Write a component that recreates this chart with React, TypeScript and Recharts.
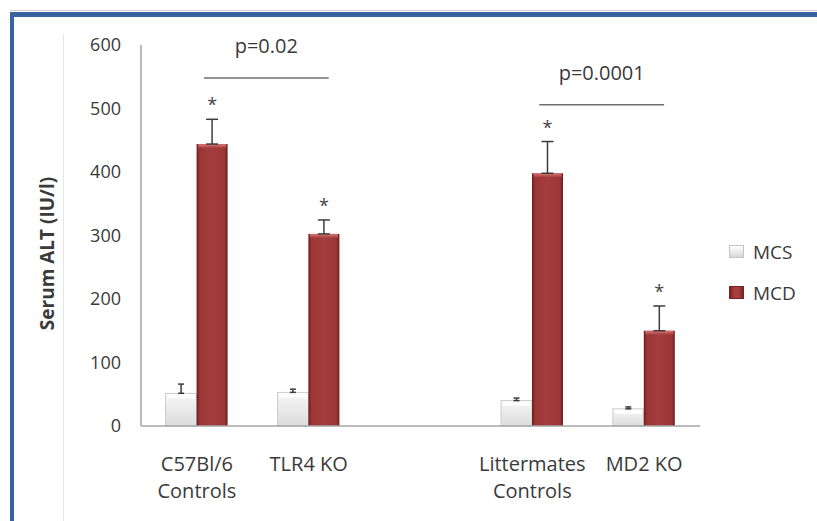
import {
  BarChart,
  Bar,
  XAxis,
  YAxis,
  ErrorBar,
  LabelList,
  ReferenceLine,
  Legend,
} from 'recharts'

const FONT = "'Open Sans', sans-serif"
const TEXT = '#3a3a3a'

// empty middle group is the spacer between the two strains
const groups = ['C57Bl/6\nControls', 'TLR4 KO', '', 'Littermates\nControls', 'MD2 KO']
const mcs = [51.5, 53, null, 40, 27]
const mcsErr = [14.5, 5, null, 4, 3]
const mcd = [444, 302.5, null, 398, 150]
const mcdErr = [39, 22, null, 50, 39]
const starred = [true, true, false, true, true]
const yTicks = [0, 100, 200, 300, 400, 500, 600]

const comparisons = [
  { from: 'C57Bl/6\nControls', to: 'TLR4 KO', at: 548, label: 'p=0.02' },
  { from: 'Littermates\nControls', to: 'MD2 KO', at: 506, label: 'p=0.0001' },
]

const data = groups.map((g, i) => ({
  group: g,
  MCS: mcs[i],
  MCD: mcd[i],
  mcsErr: mcsErr[i] == null ? null : [0, mcsErr[i]],
  mcdErr: mcdErr[i] == null ? null : [0, mcdErr[i]],
}))

function GroupTick(props: any) {
  const { x, y, payload } = props
  const lines = String(payload.value).split('\n')
  return (
    <text x={x} y={y} textAnchor="middle" fill={TEXT} fontSize={20} fontFamily={FONT}>
      {lines.map((l, i) => (
        <tspan key={i} x={x} dy={i === 0 ? 45 : 27}>{l}</tspan>
      ))}
    </text>
  )
}

function McsShape(props: any) {
  const { x, y, width, height } = props
  if (!height || height <= 0) return null
  return (
    <g>
      <rect x={x} y={y} width={width} height={height} fill="url(#mcsFill)" stroke="#c4c4c4" strokeWidth={0.8} />
      <rect x={x + 2} y={y + 1} width={width - 4} height={Math.min(4, height - 2)} fill="#ffffff" opacity={0.9} />
    </g>
  )
}

function McdShape(props: any) {
  const { x, y, width, height } = props
  if (!height || height <= 0) return null
  return (
    <g>
      <rect x={x} y={y} width={width} height={height} fill="url(#mcdSide)" />
      <rect x={x + 1.5} y={y} width={width - 3} height={4} fill="url(#mcdTop)" />
    </g>
  )
}

// label index skips empty groups, so find the group by its value
function Star(props: any) {
  const { x, y, width, height, value } = props
  const i = mcd.indexOf(Number(value))
  if (i < 0 || !starred[i]) return null
  const e = mcdErr[i] as number
  const errPx = (e * height) / (mcd[i] as number)
  return (
    <text x={x + width / 2} y={y - errPx - 8} textAnchor="middle" fontSize={18} fill="#454545" fontFamily={FONT}>
      *
    </text>
  )
}

function Bracket(props: any) {
  const { x1, y1, x2, label } = props
  const a = x1 + 7
  const b = x2 + 20
  return (
    <g>
      <line x1={a} y1={y1} x2={b} y2={y1} stroke="#6e6e6e" strokeWidth={1.5} />
      <text x={(a + b) / 2} y={y1 - 25} textAnchor="middle" fontSize={20} fill={TEXT} fontFamily={FONT}>
        {label}
      </text>
    </g>
  )
}

const legendItems = [
  { name: 'MCS', bg: 'linear-gradient(#ffffff, #d8d8d8)', border: '#c4c4c4' },
  { name: 'MCD', bg: 'linear-gradient(to right, #7a2222, #a63e3e 30%, #a63e3e 70%, #7a2222)', border: '#7a2222' },
]

function LegendBox() {
  return (
    <div style={{ fontFamily: FONT, fontSize: 19, color: TEXT }}>
      {legendItems.map((it) => (
        <div key={it.name} style={{ display: 'flex', alignItems: 'center', height: 41 }}>
          <span
            style={{
              display: 'inline-block',
              width: 13,
              height: 11,
              background: it.bg,
              border: `1px solid ${it.border}`,
              marginRight: 9,
            }}
          />
          {it.name}
        </div>
      ))}
    </div>
  )
}

export default function App() {
  return (
    <div style={{ position: 'absolute', left: 0, top: 0, width: 817, height: 521, overflow: 'hidden', background: '#fff' }}>
      <div style={{ position: 'absolute', left: 10, top: 10, width: 900, height: 1, background: '#cfcfcf' }} />
      <div
        style={{
          position: 'absolute',
          left: 10,
          top: 12,
          width: 900,
          height: 600,
          borderLeft: '4px solid #3b62a0',
          borderTop: '5px solid #3b62a0',
        }}
      />
      <div style={{ position: 'absolute', left: 63, top: 34, width: 1, height: 500, background: '#e6e6e6' }} />
      <div style={{ position: 'absolute', left: 0, top: 0 }}>
        <BarChart
          width={817}
          height={521}
          data={data}
          margin={{ top: 45, right: 27, bottom: 35, left: 0 }}
          barCategoryGap="22%"
          barGap={0}
        >
          <defs>
            <linearGradient id="mcsFill" x1="0" y1="0" x2="0" y2="1">
              <stop offset="0%" stopColor="#f7f7f7" />
              <stop offset="100%" stopColor="#dcdcdc" />
            </linearGradient>
            <linearGradient id="mcdSide" x1="0" y1="0" x2="1" y2="0">
              <stop offset="0%" stopColor="#6c1c1c" />
              <stop offset="10%" stopColor="#9c3636" />
              <stop offset="50%" stopColor="#a43d3d" />
              <stop offset="90%" stopColor="#9c3636" />
              <stop offset="100%" stopColor="#6c1c1c" />
            </linearGradient>
            <linearGradient id="mcdTop" x1="0" y1="0" x2="0" y2="1">
              <stop offset="0%" stopColor="#dc7676" />
              <stop offset="100%" stopColor="#a43d3d" />
            </linearGradient>
          </defs>
          <XAxis
            dataKey="group"
            height={60}
            tick={<GroupTick />}
            tickLine={false}
            tickSize={0}
            tickMargin={0}
            axisLine={{ stroke: '#a6a6a6', strokeWidth: 1.5 }}
            interval={0}
          />
          <YAxis
            width={141}
            domain={[0, 600]}
            ticks={yTicks}
            tick={{ fill: TEXT, fontSize: 18, fontFamily: FONT }}
            tickLine={false}
            tickSize={0}
            tickMargin={20}
            axisLine={{ stroke: '#a6a6a6', strokeWidth: 1.5 }}
            label={{
              value: 'Serum ALT (IU/l)',
              angle: -90,
              position: 'insideLeft',
              offset: 47,
              dy: 18,
              fill: TEXT,
              fontSize: 19,
              fontWeight: 'bold',
              fontFamily: FONT,
              style: { textAnchor: 'middle' },
            }}
          />
          <Legend
            layout="horizontal"
            verticalAlign="middle"
            align="right"
            content={<LegendBox />}
            wrapperStyle={{ top: 231, left: 729, right: 'auto', bottom: 'auto', width: 90 }}
          />
          <Bar dataKey="MCS" name="MCS" fill="#e2e2e2" shape={<McsShape />} isAnimationActive={false}>
            <ErrorBar dataKey="mcsErr" width={3} stroke="#3c3c3c" strokeWidth={1.5} direction="y" />
          </Bar>
          <Bar dataKey="MCD" name="MCD" fill="#a43d3d" shape={<McdShape />} isAnimationActive={false}>
            <ErrorBar dataKey="mcdErr" width={6} stroke="#3c3c3c" strokeWidth={1.5} direction="y" />
            <LabelList dataKey="MCD" content={<Star />} />
          </Bar>
          {comparisons.map((c) => (
            <ReferenceLine
              key={c.label}
              segment={[{ x: c.from, y: c.at }, { x: c.to, y: c.at }]}
              ifOverflow="visible"
              shape={(p: any) => <Bracket {...p} label={c.label} />}
            />
          ))}
        </BarChart>
      </div>
    </div>
  )
}
